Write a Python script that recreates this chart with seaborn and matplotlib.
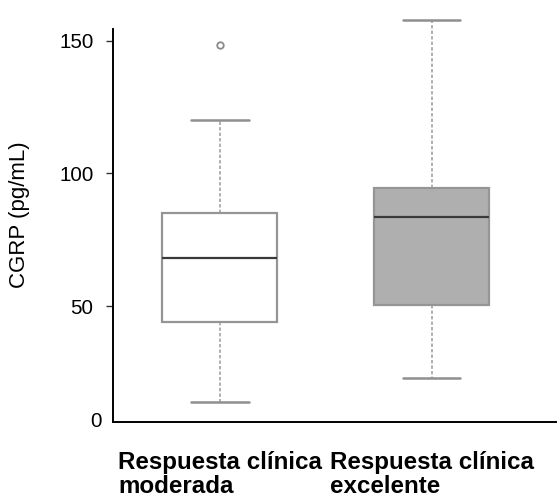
import numpy as np
import pandas as pd
import matplotlib
matplotlib.use("Agg")
import matplotlib.pyplot as plt
import matplotlib.transforms as mtransforms
import seaborn as sns

# Five-number summaries (lower whisker, Q1, median, Q3, upper whisker), CGRP in pg/mL
groups = ["Respuesta clínica\nmoderada", "Respuesta clínica\nexcelente"]
moderada = [14, 44, 68, 85, 120]
excelente = [23, 50.5, 83.5, 94.5, 158]
outlier_group = [groups[0]]
outlier_value = [148.5]

fill_colors = ["#ffffff", "#afafaf"]
yticks = [50, 100, 150]

sns.set_theme(style="ticks")
plt.rcParams["font.family"] = ["Liberation Sans", "DejaVu Sans"]

df = pd.DataFrame({
    "grupo": [groups[0]] * len(moderada) + [groups[1]] * len(excelente),
    "cgrp": moderada + excelente,
})
out_df = pd.DataFrame({"grupo": outlier_group, "cgrp": outlier_value})

fig = plt.figure(figsize=(5.57, 4.99), dpi=100)
ax = fig.add_axes([0.2029, 0.155, 0.7971, 0.845])

sns.boxplot(
    data=df, x="grupo", y="cgrp", hue="grupo", palette=fill_colors,
    order=groups, hue_order=groups, legend=False, ax=ax,
    width=0.543, whis=(0, 100), linecolor="#959595", linewidth=1.6,
    whiskerprops=dict(color="#9a9a9a", linestyle=(0, (2.2, 1.4)), linewidth=1.1),
    capprops=dict(color="#8f8f8f", linewidth=1.8),
    medianprops=dict(color="#3a3a3a", linewidth=1.6),
    showfliers=False,
)
sns.scatterplot(
    data=out_df, x="grupo", y="cgrp", ax=ax, s=22, marker="o",
    facecolor="white", edgecolor="#8a8a8a", linewidth=1.3, zorder=5,
)

ax.set_xlim(-0.505, 1.592)
ax.set_ylim(6.4, 165.4)
ax.set_yticks(yticks)
ax.set_yticklabels([str(v) for v in yticks])
ax.tick_params(axis="y", length=5, width=1.0, color="#333333", pad=9,
               labelsize=14.8, labelcolor="black")
ax.tick_params(axis="x", length=0, pad=21)
for lbl in ax.get_xticklabels():
    lbl.set_fontsize(17.4)
    lbl.set_fontweight("bold")
    lbl.set_multialignment("left")
    lbl.set_linespacing(1.06)
    lbl.set_color("black")

ax.set_xlabel("")
ax.set_ylabel("CGRP (pg/mL)", fontsize=16, color="black")
ax.yaxis.set_label_coords(-0.188, 0.49)

for side in ["top", "right"]:
    ax.spines[side].set_visible(False)
for side in ["left", "bottom"]:
    ax.spines[side].set_color("black")
    ax.spines[side].set_linewidth(1.4)
ax.spines["left"].set_bounds(6.4, 154.3)

# zero label at the axis corner
trans = mtransforms.blended_transform_factory(ax.transAxes, ax.transData)
ax.text(-0.025, 6.4, "0", transform=trans, ha="right", va="center",
        fontsize=14.8, color="black")

fig.savefig("out.png", dpi=100, facecolor="white")
